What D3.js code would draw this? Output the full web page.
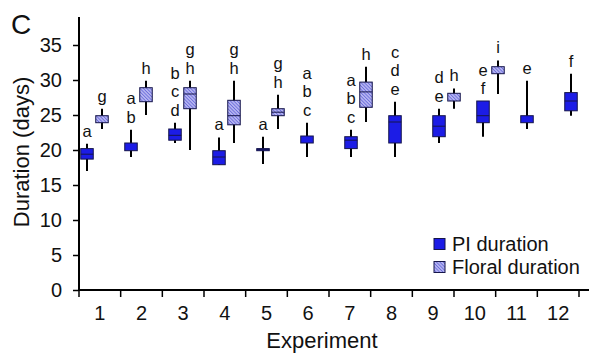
<!DOCTYPE html>
<html>
<head>
<meta charset="utf-8">
<script src="https://cdn.jsdelivr.net/npm/d3@7"></script>
<style>
  body { margin: 0; background: #fff; }
  svg { display: block; font-family: "Liberation Sans", Arial, sans-serif; }
</style>
</head>
<body>
<div id="chart"></div>
<script>
// experiments on the x axis
const experiments = [1, 2, 3, 4, 5, 6, 7, 8, 9, 10, 11, 12];
const yTicks = [0, 5, 10, 15, 20, 25, 30, 35];

// PI duration: [min, q1, median, q3, max] (median null = not visible)
const piStats = [
  [17.0, 18.7, 19.4, 20.2, 20.9],
  [19.0, 19.9, null, 21.0, 22.9],
  [21.0, 21.4, 22.1, 23.0, 23.9],
  [17.9, 17.9, 19.0, 19.9, 21.8],
  [18.0, 19.9, 20.05, 20.2, 21.9],
  [19.0, 21.0, null, 22.0, 23.9],
  [19.0, 20.2, 21.4, 21.9, 22.9],
  [19.0, 21.0, 24.0, 24.9, 26.9],
  [21.0, 21.9, 23.4, 24.9, 25.9],
  [21.9, 23.9, 24.9, 27.0, 27.0],
  [23.0, 23.9, null, 24.9, 29.9],
  [24.9, 25.6, 27.0, 28.2, 30.9]
];
// Floral duration (null = no box for that experiment)
const floralStats = [
  [23.0, 23.9, null, 24.9, 25.9],
  [25.0, 26.9, null, 28.9, 29.9],
  [20.0, 25.9, 28.0, 28.9, 29.9],
  [21.0, 23.6, 24.9, 27.1, 29.9],
  [23.0, 24.9, 25.4, 25.9, 27.9],
  null,
  [24.0, 26.1, 28.3, 29.7, 31.9],
  null,
  [25.9, 27.0, null, 28.1, 28.8],
  [28.0, 30.9, null, 31.9, 32.8],
  null,
  null
];
// significance letters (top to bottom)
const piLetters = [["a"], ["a", "b"], ["b", "c", "d"], ["a"], ["a"], ["a", "b", "c"],
  ["a", "b", "c"], ["c", "d", "e"], ["d", "e"], ["e", "f"], ["e"], ["f"]];
const floralLetters = [["g"], ["h"], ["g", "h"], ["g", "h"], ["g", "h"], [],
  ["h"], [], ["h"], ["i"], [], []];

const width = 589, height = 354;
const piColor = "#1c1ce6";

const svg = d3.select("#chart").append("svg")
  .attr("width", width)
  .attr("height", height);

// hatched fill for floral boxes
const pat = svg.append("defs").append("pattern")
  .attr("id", "hatch")
  .attr("patternUnits", "userSpaceOnUse")
  .attr("width", 2.4)
  .attr("height", 2.4)
  .attr("patternTransform", "rotate(-45)");
pat.append("rect").attr("width", 2.4).attr("height", 2.4).attr("fill", "#b4b4f0");
pat.append("line").attr("x1", 0).attr("y1", 0).attr("x2", 0).attr("y2", 2.4)
  .attr("stroke", "#4a4ad2").attr("stroke-width", 1.1);

const y = d3.scaleLinear().domain([0, 39]).range([290, 17]);
// axis bands (tick labels) and box positions do not line up exactly in the original
const xAxisBand = d3.scaleBand().domain(experiments).range([79, 579]);
const xBox = d3.scaleBand().domain(experiments).range([72.5, 600.5]);
const boxW = 12.5;
const offset = 7.5;

// y axis
const yAxis = svg.append("g")
  .attr("transform", "translate(79,0)")
  .call(d3.axisLeft(y).tickValues(yTicks).tickSize(6).tickPadding(11).tickSizeOuter(0));
yAxis.select(".domain").remove();
yAxis.selectAll(".tick line").attr("stroke", "#000").attr("stroke-width", 1.5);
yAxis.selectAll(".tick text").attr("font-size", 20).attr("fill", "#111")
  .attr("font-family", "Liberation Sans, Arial, sans-serif");
svg.append("line").attr("x1", 79).attr("x2", 79).attr("y1", y(0) + 1).attr("y2", y(39))
  .attr("stroke", "#000").attr("stroke-width", 2);

// x axis: labels centred in bands, ticks on band edges
const xAxis = svg.append("g")
  .attr("transform", "translate(0,290)")
  .call(d3.axisBottom(xAxisBand).tickSize(0).tickPadding(16));
xAxis.select(".domain").remove();
xAxis.selectAll(".tick text").attr("font-size", 20).attr("fill", "#111")
  .attr("font-family", "Liberation Sans, Arial, sans-serif");
const edges = experiments.map(d => xAxisBand(d)).concat([xAxisBand.range()[1]]);
svg.append("g").selectAll("line").data(edges).join("line")
  .attr("x1", d => d).attr("x2", d => d)
  .attr("y1", 290).attr("y2", 297)
  .attr("stroke", "#000").attr("stroke-width", 1.5);
svg.append("line").attr("x1", 78).attr("x2", width).attr("y1", 290).attr("y2", 290)
  .attr("stroke", "#000").attr("stroke-width", 2);

// boxes
function drawBoxes(stats, letters, dx, fill) {
  const items = experiments.map((e, i) => ({ e, s: stats[i], l: letters[i] }))
    .filter(d => d.s);
  const g = svg.append("g").selectAll("g").data(items).join("g")
    .attr("transform", d => `translate(${xBox(d.e) + xBox.bandwidth() / 2 + dx},0)`);
  g.append("line")
    .attr("y1", d => y(d.s[0])).attr("y2", d => y(d.s[4]))
    .attr("stroke", "#000").attr("stroke-width", 2);
  g.append("rect")
    .attr("x", -boxW / 2).attr("width", boxW)
    .attr("y", d => y(d.s[3]))
    .attr("height", d => Math.max(1.5, y(d.s[1]) - y(d.s[3])))
    .attr("fill", fill).attr("stroke", "#15154a").attr("stroke-width", 1);
  g.filter(d => d.s[2] != null).append("line")
    .attr("x1", -boxW / 2).attr("x2", boxW / 2)
    .attr("y1", d => y(d.s[2])).attr("y2", d => y(d.s[2]))
    .attr("stroke", "#15154a").attr("stroke-width", 1);
  g.each(function (d) {
    const top = y(d.s[4]);
    const n = d.l.length;
    d3.select(this).selectAll("text").data(d.l).join("text")
      .attr("x", 0)
      .attr("y", (t, j) => top - 7 - (n - 1 - j) * 18.5)
      .attr("text-anchor", "middle")
      .attr("font-size", 16.5)
      .attr("fill", "#111")
      .text(t => t);
  });
}
drawBoxes(piStats, piLetters, -offset, piColor);
drawBoxes(floralStats, floralLetters, offset, "url(#hatch)");

// legend
const legend = svg.append("g").attr("transform", "translate(434,0)");
const legendItems = [
  { label: "PI duration", fill: piColor, y: 244 },
  { label: "Floral duration", fill: "url(#hatch)", y: 267 }
];
const li = legend.selectAll("g").data(legendItems).join("g")
  .attr("transform", d => `translate(0,${d.y})`);
li.append("rect").attr("x", 0).attr("y", -5.5).attr("width", 11).attr("height", 11)
  .attr("fill", d => d.fill).attr("stroke", "#15154a").attr("stroke-width", 1);
li.append("text").attr("x", 18).attr("y", 7).attr("font-size", 20).attr("fill", "#111")
  .text(d => d.label);

// titles
svg.append("text")
  .attr("transform", "translate(29,152) rotate(-90)")
  .attr("text-anchor", "middle")
  .attr("font-size", 22).attr("fill", "#111")
  .text("Duration (days)");
svg.append("text")
  .attr("x", 322).attr("y", 348)
  .attr("text-anchor", "middle")
  .attr("font-size", 22).attr("fill", "#111")
  .text("Experiment");
svg.append("text")
  .attr("x", 11).attr("y", 34)
  .attr("font-size", 28).attr("fill", "#111")
  .text("C");
</script>
</body>
</html>
